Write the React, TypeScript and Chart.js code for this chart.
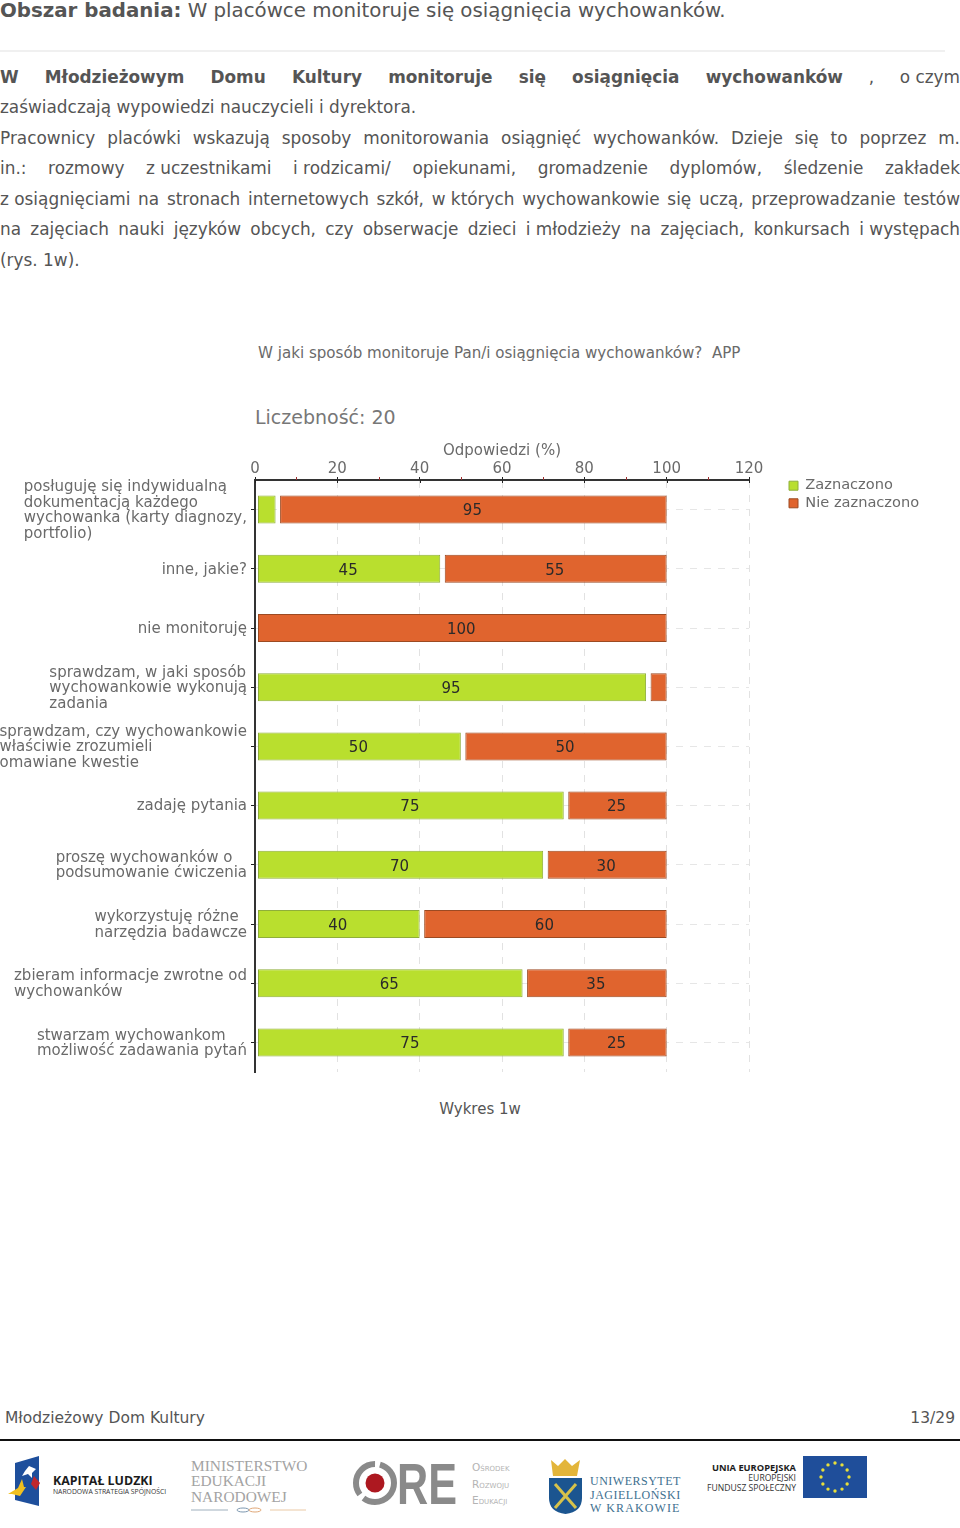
import React, { useEffect, useRef } from "react";
import { Chart, registerables } from "chart.js";

Chart.register(...registerables);

const categories: string[][] = [
  ["posługuję się indywidualną", "dokumentacją każdego", "wychowanka (karty diagnozy,", "portfolio)"],
  ["inne, jakie?"],
  ["nie monitoruję"],
  ["sprawdzam, w jaki sposób", "wychowankowie wykonują", "zadania"],
  ["sprawdzam, czy wychowankowie", "właściwie zrozumieli", "omawiane kwestie"],
  ["zadaję pytania"],
  ["proszę wychowanków o", "podsumowanie ćwiczenia"],
  ["wykorzystuję różne", "narzędzia badawcze"],
  ["zbieram informacje zwrotne od", "wychowanków"],
  ["stwarzam wychowankom", "możliwość zadawania pytań"],
];
const zaznaczono = [5, 45, 0, 95, 50, 75, 70, 40, 65, 75];
const nieZaznaczono = [95, 55, 100, 5, 50, 25, 30, 60, 35, 25];
const minorTicks = [10, 30, 50, 70, 90, 110];
const majorTicks = [0, 20, 40, 60, 80, 100, 120];

const FONT = '"DejaVu Sans", Verdana, sans-serif';
const TXT = "#555";
const CHART_TXT = "#6a6a6a";

const barInsets = {
  id: "barInsets",
  afterDatasetsUpdate(chart: any) {
    chart.getDatasetMeta(0).data.forEach((el: any, i: number) => {
      if (zaznaczono[i] > 0) el.base += 2.5;
    });
    chart.getDatasetMeta(1).data.forEach((el: any, i: number) => {
      el.base += zaznaczono[i] > 0 ? 4.5 : 2.5;
    });
  },
};

const legendShift = {
  id: "legendShift",
  afterUpdate(chart: any) {
    const lg = chart.legend;
    if (!lg) return;
    lg.left += 37;
    lg.right += 37;
    lg.adjustHitBoxes();
  },
};

const valueLabels = {
  id: "valueLabels",
  afterDatasetsDraw(chart: any) {
    const { ctx } = chart;
    ctx.save();
    ctx.font = `15px ${FONT}`;
    ctx.fillStyle = "#2a2a2a";
    ctx.textAlign = "center";
    ctx.textBaseline = "middle";
    chart.data.datasets.forEach((ds: any, d: number) => {
      chart.getDatasetMeta(d).data.forEach((el: any, i: number) => {
        if (ds.data[i] >= 10) ctx.fillText(String(ds.data[i]), (el.x + el.base) / 2 - 1, el.y + 2);
      });
    });
    ctx.restore();
  },
};

const axisExtras = {
  id: "axisExtras",
  afterDraw(chart: any) {
    const { ctx, scales } = chart;
    const x = scales.x;
    const y = scales.y;
    const top = chart.chartArea.top;
    ctx.save();
    ctx.lineWidth = 1;
    ctx.strokeStyle = "#a03030";
    minorTicks.forEach((v) => {
      const px = Math.round(x.getPixelForValue(v)) + 0.5;
      ctx.beginPath();
      ctx.moveTo(px, top - 3);
      ctx.lineTo(px, top);
      ctx.stroke();
    });
    ctx.strokeStyle = "#222";
    majorTicks.forEach((v) => {
      const px = Math.round(x.getPixelForValue(v)) + 0.5;
      ctx.beginPath();
      ctx.moveTo(px, top);
      ctx.lineTo(px, top + 3);
      ctx.stroke();
    });
    ctx.font = `15px ${FONT}`;
    ctx.fillStyle = CHART_TXT;
    ctx.textAlign = "left";
    ctx.textBaseline = "middle";
    const lh = 15.5;
    const rightEdge = y.right - 8;
    categories.forEach((lines, i) => {
      const cy = y.getPixelForValue(i) + 1;
      const w = Math.max(...lines.map((s) => ctx.measureText(s).width));
      lines.forEach((s, k) => {
        ctx.fillText(s, rightEdge - w, cy + (k - (lines.length - 1) / 2) * lh);
      });
    });
    ctx.restore();
  },
};

function Nb({ children }: any) {
  return <span style={{ display: "inline-block", whiteSpace: "nowrap", textAlignLast: "left" }}>{children}</span>;
}

const textLines: { y: number; html: React.ReactNode; justify: boolean }[] = [
  {
    y: 77,
    justify: true,
    html: (
      <>
        <b>W Młodzieżowym Domu Kultury monitoruje się osiągnięcia wychowanków</b> , <Nb>o czym</Nb>
      </>
    ),
  },
  { y: 107, justify: false, html: "zaświadczają wypowiedzi nauczycieli i dyrektora." },
  { y: 138, justify: true, html: "Pracownicy placówki wskazują sposoby monitorowania osiągnięć wychowanków. Dzieje się to poprzez m." },
  {
    y: 168,
    justify: true,
    html: (
      <>
        in.: rozmowy <Nb>z uczestnikami</Nb> <Nb>i rodzicami/</Nb> opiekunami, gromadzenie dyplomów, śledzenie zakładek
      </>
    ),
  },
  {
    y: 199,
    justify: true,
    html: (
      <>
        <Nb>z osiągnięciami</Nb> na stronach internetowych szkół, <Nb>w których</Nb> wychowankowie się uczą, przeprowadzanie testów
      </>
    ),
  },
  {
    y: 229,
    justify: true,
    html: (
      <>
        na zajęciach nauki języków obcych, czy obserwacje dzieci <Nb>i młodzieży</Nb> na zajęciach, konkursach <Nb>i występach</Nb>
      </>
    ),
  },
  { y: 260, justify: false, html: "(rys. 1w)." },
];

function Abs({ x, y, style, children }: any) {
  return (
    <div
      style={{
        position: "absolute",
        left: x,
        top: y - 12,
        height: 24,
        lineHeight: "24px",
        whiteSpace: "nowrap",
        fontFamily: FONT,
        color: TXT,
        ...style,
      }}
    >
      {children}
    </div>
  );
}

function Logos() {
  const stars = Array.from({ length: 12 }, (_, i) => i);
  return (
    <svg width={960} height={90} viewBox="0 1440 960 90" style={{ position: "absolute", left: 0, top: 1440 }}>
      <polygon points="15,1463 39,1456 39,1506 15,1500" fill="#1e4f9c" />
      <polygon points="29,1466 36,1469 32,1473 32,1478 28,1474 22,1476 25,1471" fill="#fff" />
      <polygon points="22,1479 24,1487 26,1487 20,1496 12,1494 8,1494 18,1488" fill="#f0c020" />
      <polygon points="34,1476 40,1483 36,1490 31,1484" fill="#c0272d" />
      <text x={53} y={1485} fontFamily='"Open Sans", sans-serif' fontWeight={700} fontSize={12.4} fill="#1c1c1c">KAPITAŁ LUDZKI</text>
      <text x={53} y={1494} fontFamily='"Open Sans", sans-serif' fontSize={6.8} fill="#333">NARODOWA STRATEGIA SPÓJNOŚCI</text>

      <g fontFamily='"Liberation Serif", serif' fontSize={15.4} fill="#a3a3a3">
        <text x={191} y={1471}>MINISTERSTWO</text>
        <text x={191} y={1486}>EDUKACJI</text>
        <text x={191} y={1502}>NARODOWEJ</text>
      </g>
      <line x1={191} y1={1510} x2={228} y2={1510} stroke="#9fb0bd" />
      <line x1={270} y1={1510} x2={306} y2={1510} stroke="#eac9a5" />
      <ellipse cx={243} cy={1510} rx={6} ry={2} fill="none" stroke="#7d98b0" />
      <ellipse cx={255} cy={1510} rx={6} ry={2} fill="none" stroke="#e0a878" />

      <circle cx={375} cy={1483} r={19} fill="none" stroke="#8a8a8a" strokeWidth={6} strokeDasharray="42 5" />
      <circle cx={375} cy={1483} r={9.5} fill="#ad1820" />
      <text x={397} y={1504} fontFamily='"Liberation Sans", sans-serif' fontWeight={700} fontSize={58} fill="#8a8a8a" textLength={60} lengthAdjust="spacingAndGlyphs">RE</text>
      <g fontFamily={FONT} fontSize={10.5} fill="#b4b4b4" style={{ fontVariant: "small-caps" }}>
        <text x={472} y={1471}>Ośrodek</text>
        <text x={472} y={1488}>Rozwoju</text>
        <text x={472} y={1504}>Edukacji</text>
      </g>

      <polygon points="551,1460 558,1466 565,1459 572,1466 580,1460 577,1476 553,1476" fill="#e3b53a" />
      <path d="M549,1478 H582 V1498 Q582,1512 565.5,1514 Q549,1512 549,1498 Z" fill="#1b5590" />
      <path d="M555,1484 L576,1508 M576,1484 L555,1508" stroke="#d6c24a" strokeWidth={3} />
      <g fontFamily='"Liberation Serif", serif' fontSize={12} fill="#40708f">
        <text x={590} y={1485} letterSpacing={0.5}>UNIWERSYTET</text>
        <text x={590} y={1499} letterSpacing={0.5}>JAGIELLOŃSKI</text>
        <text x={590} y={1512} letterSpacing={1.1}>W KRAKOWIE</text>
      </g>

      <g fontFamily='"Open Sans", sans-serif' textAnchor="end" fill="#333" fontSize={8.6}>
        <text x={796} y={1471} fontWeight={700} fill="#1c1c1c" fontSize={9.3}>UNIA EUROPEJSKA</text>
        <text x={796} y={1481}>EUROPEJSKI</text>
        <text x={796} y={1491}>FUNDUSZ SPOŁECZNY</text>
      </g>
      <rect x={803} y={1456} width={64} height={42} fill="#1f4e9a" />
      {stars.map((i) => (
        <circle
          key={i}
          cx={835 + 14 * Math.cos((i * Math.PI) / 6)}
          cy={1477 + 14 * Math.sin((i * Math.PI) / 6)}
          r={1.7}
          fill="#e8df3a"
        />
      ))}
    </svg>
  );
}

export default function App() {
  const ref = useRef<HTMLCanvasElement>(null);
  useEffect(() => {
    const chart = new Chart(ref.current as HTMLCanvasElement, {
      type: "bar",
      data: {
        labels: categories as any,
        datasets: [
          {
            label: "Zaznaczono",
            data: zaznaczono,
            backgroundColor: "#b9df2e",
            borderColor: "#8fae3a",
            borderWidth: (c: any) => (c.raw === 0 ? 0 : 1),
          },
          {
            label: "Nie zaznaczono",
            data: nieZaznaczono,
            backgroundColor: "#e0642e",
            borderColor: "#9c4a22",
            borderWidth: 1,
          },
        ] as any,
      },
      options: {
        animation: false,
        responsive: false,
        indexAxis: "y",
        layout: { padding: { right: 30, bottom: 8, top: 0, left: 0 } },
        datasets: { bar: { categoryPercentage: 1, barPercentage: 0.473, borderSkipped: false } },
        plugins: {
          tooltip: { enabled: false },
          legend: {
            position: "right",
            align: "start",
            title: { display: true, text: " ", padding: { top: 24, bottom: 0 }, font: { size: 12 } },
            labels: {
              boxWidth: 9,
              boxHeight: 9,
              padding: 3,
              color: CHART_TXT,
              font: { family: FONT, size: 14.6 },
            },
          },
        },
        scales: {
          x: {
            position: "top",
            stacked: true,
            min: 0,
            max: 120,
            afterFit: (s: any) => {
              s.height = 43;
              s.paddingRight = 211;
            },
            title: {
              display: true,
              text: "Odpowiedzi (%)",
              color: CHART_TXT,
              font: { family: FONT, size: 15 },
              padding: { top: 5, bottom: 0 },
            },
            ticks: { stepSize: 20, color: CHART_TXT, font: { family: FONT, size: 15 }, padding: -1, maxRotation: 0 },
            grid: { color: "#e2e2e2", tickColor: "#222", tickLength: 3, tickBorderDash: [], drawTicks: true },
            border: { color: "#333", width: 2, dash: [7, 7] },
          },
          y: {
            stacked: true,
            afterFit: (s: any) => {
              s.width = 255;
            },
            ticks: { display: false },
            grid: { color: "#e6e6e6", tickColor: "#222", tickLength: 4, tickBorderDash: [], offset: false },
            border: { color: "#333", width: 2, dash: [7, 7] },
          },
        },
      } as any,
      plugins: [barInsets, legendShift, valueLabels, axisExtras],
    });
    return () => chart.destroy();
  }, []);

  return (
    <div style={{ position: "absolute", left: 0, top: 0, width: 960, height: 1528, overflow: "hidden", background: "#fff" }}>
      <Abs x={0} y={11} style={{ fontSize: 19.8 }}>
        <b>Obszar badania:</b> W placówce monitoruje się osiągnięcia wychowanków.
      </Abs>
      <div style={{ position: "absolute", left: 0, top: 50, width: 945, height: 2, background: "#f0f0f0" }} />
      {textLines.map((l) => (
        <div
          key={l.y}
          style={{
            position: "absolute",
            left: 0,
            top: l.y - 12,
            width: 960,
            height: 24,
            lineHeight: "24px",
            fontFamily: FONT,
            fontSize: 16.9,
            color: TXT,
            textAlign: l.justify ? "justify" : "left",
            textAlignLast: l.justify ? "justify" : "left",
            whiteSpace: "normal",
          }}
        >
          {l.html}
        </div>
      ))}
      <Abs x={258} y={353} style={{ fontSize: 15.1, color: CHART_TXT }}>
        W jaki sposób monitoruje Pan/i osiągnięcia wychowanków?&nbsp;&nbsp;APP
      </Abs>
      <Abs x={255} y={417} style={{ fontSize: 19, color: "#777" }}>
        Liczebność: 20
      </Abs>
      <canvas ref={ref} width={960} height={643} style={{ position: "absolute", left: 0, top: 437, width: 960, height: 643 }} />
      <Abs x={0} y={1109} style={{ width: 960, textAlign: "center", fontSize: 15 }}>
        Wykres 1w
      </Abs>
      <Abs x={5} y={1418} style={{ fontSize: 15.5 }}>
        Młodzieżowy Dom Kultury
      </Abs>
      <Abs x={855} y={1418} style={{ width: 100, textAlign: "right", fontSize: 15.5 }}>
        13/29
      </Abs>
      <div style={{ position: "absolute", left: 0, top: 1439, width: 960, height: 2, background: "#111" }} />
      <Logos />
    </div>
  );
}
